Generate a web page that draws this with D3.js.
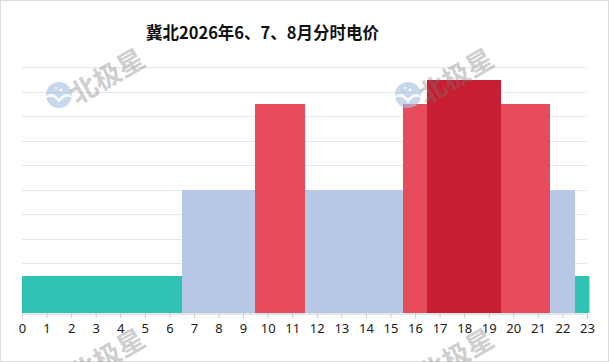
<!DOCTYPE html>
<html><head><meta charset="utf-8">
<script src="https://cdn.jsdelivr.net/npm/d3@7/dist/d3.min.js"></script>
<style>
html,body{margin:0;padding:0;background:#fff;}
svg{display:block;}
</style></head>
<body><svg id="c" width="609" height="362"></svg>
<script>
const title = "冀北2026年6、7、8月分时电价";
const hours = d3.range(0, 24);
const tickLabels = hours.map(String);
const periods = ["谷","谷","谷","谷","谷","谷","谷","平","平","平","峰","峰","平","平","平","平","峰","尖峰","尖峰","尖峰","峰","峰","平","谷"];
const prices = [0.15,0.15,0.15,0.15,0.15,0.15,0.15,0.5,0.5,0.5,0.85,0.85,0.5,0.5,0.5,0.5,0.85,0.95,0.95,0.95,0.85,0.85,0.5,0.15];
const periodNames = ["谷","平","峰","尖峰"];
const periodColors = ["#31c2b3","#b7c7e8","#e64b5e","#c81e32"];

const svg = d3.select("#c");
const W = 609, H = 362;
const x = d3.scaleLinear().domain([0, 23]).range([22, 587]);
const y = d3.scaleLinear().domain([0, 1]).range([312.5, 67.3]);
const color = d3.scaleOrdinal().domain(periodNames).range(periodColors);

// frame
svg.append("rect").attr("x",0.5).attr("y",0.5).attr("width",W-1).attr("height",H-1)
  .attr("fill","#fff").attr("stroke","#dcdcdc");

// grid
svg.append("g").selectAll("line").data(y.ticks(10).filter(v => v > 0))
  .join("line")
  .attr("x1", x(0)).attr("x2", x(23))
  .attr("y1", d => Math.round(y(d)) + 0.5).attr("y2", d => Math.round(y(d)) + 0.5)
  .attr("stroke", "#e6e6e6").attr("stroke-width", 1);

svg.append("defs").append("clipPath").attr("id","clip")
  .append("rect").attr("x", x(0)).attr("y", 0).attr("width", x(23.1) - x(0)).attr("height", H);

// merge consecutive hours of the same period into one bar (no seams)
const runs = [];
hours.forEach((h, i) => {
  const last = runs[runs.length - 1];
  if (last && last.p === periods[i] && last.v === prices[i]) last.h1 = h;
  else runs.push({h0: h, h1: h, v: prices[i], p: periods[i]});
});
svg.append("g").attr("clip-path","url(#clip)").selectAll("rect").data(runs)
  .join("rect")
  .attr("x", d => Math.round(x(d.h0 - 0.5)))
  .attr("width", d => Math.round(x(d.h1 + 0.5)) - Math.round(x(d.h0 - 0.5)))
  .attr("y", d => Math.round(y(d.v)))
  .attr("height", d => Math.round(y(0)) - Math.round(y(d.v)))
  .attr("fill", d => color(d.p))
  .attr("shape-rendering", "crispEdges");

// x axis
const xAxis = d3.axisBottom(x).tickValues(hours).tickFormat((d, i) => tickLabels[i]).tickSize(5).tickPadding(5);
const gx = svg.append("g").attr("transform", `translate(0,${Math.round(y(0)) + 0.5})`).call(xAxis);
gx.select(".domain").attr("stroke", "#cccccc");
gx.selectAll(".tick line").attr("stroke", "#cccccc");
gx.selectAll(".tick text").attr("fill", "#1a1a1a")
  .style("font-family", "'Noto Sans', 'Liberation Sans', sans-serif").style("font-size", "13px");

// title
svg.append("text").attr("x", 262.5).attr("y", 39)
  .attr("text-anchor", "middle")
  .style("font-family", "'Noto Sans CJK SC', sans-serif")
  .style("font-weight", "bold").style("font-size", "16.5px").attr("fill", "#111")
  .text(title);

// watermarks
const wmPos = [[59,95],[408,95],[59,375],[408,375]];
const wm = svg.append("g").attr("pointer-events","none");
wmPos.forEach(([cx, cy]) => {
  const g = wm.append("g").attr("transform", `translate(${cx},${cy})`);
  g.append("circle").attr("r", 13).attr("fill", "#a9c3e3").attr("opacity", 0.65);
  g.append("path").attr("d", "M-13,1 Q-6,-4 0,4 Q6,-4 13,1 L13,3 Q6,-1 0,8 Q-6,-1 -13,3 Z").attr("fill", "#fff").attr("opacity", 0.9);
  g.append("circle").attr("cx", 2).attr("cy", -5).attr("r", 1.3).attr("fill", "#fff");
  g.append("circle").attr("cx", -3).attr("cy", -7).attr("r", 0.9).attr("fill", "#fff");
  g.append("text").attr("transform", "translate(18,10) rotate(-30)")
    .style("font-family", "'Noto Sans CJK SC', sans-serif").style("font-weight", "bold")
    .style("font-size", "27px").attr("fill", "#777").attr("opacity", 0.35)
    .text("北极星");
});
</script></body></html>
